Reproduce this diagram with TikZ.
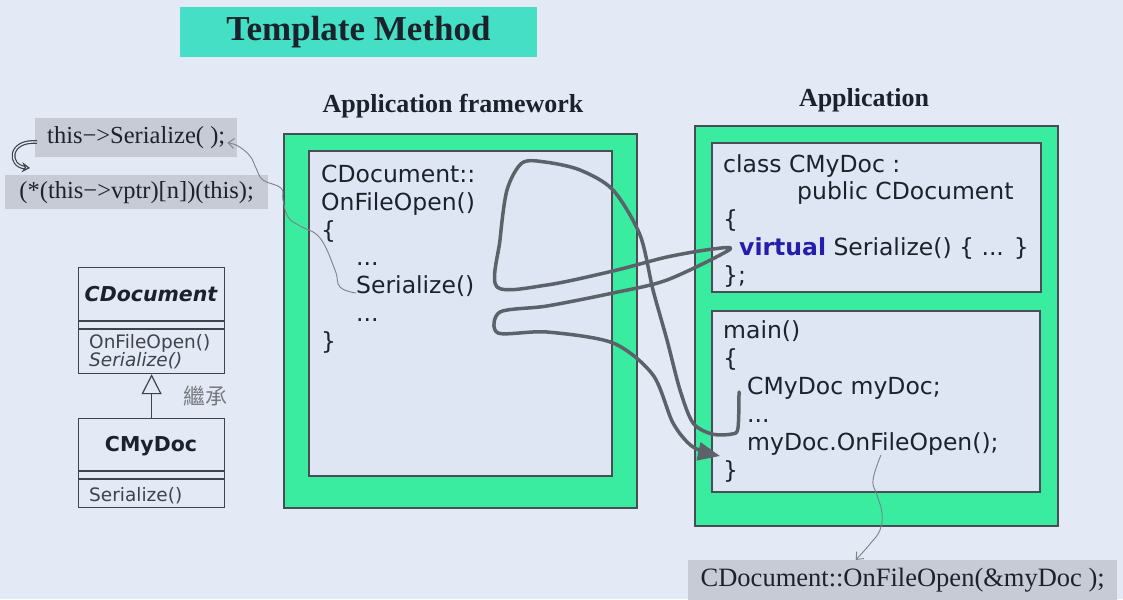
\documentclass[tikz,border=0pt]{standalone}
\usepackage{fontspec}
\setmainfont{Liberation Serif}
\setsansfont{DejaVu Sans}
\newfontfamily\cjkfont{Noto Sans CJK TC}
\usetikzlibrary{arrows.meta,positioning}

\definecolor{slidebg}{RGB}{227,233,245}
\definecolor{titleteal}{RGB}{68,223,196}
\definecolor{framegreen}{RGB}{58,236,160}
\definecolor{boxbg}{RGB}{222,230,243}
\definecolor{notegray}{RGB}{198,203,214}
\definecolor{ink}{RGB}{28,34,44}
\definecolor{pen}{RGB}{92,98,106}
\definecolor{kwblue}{RGB}{36,30,170}

\tikzset{
  greenframe/.style={draw=ink!80,line width=1.6pt,fill=framegreen},
  codebox/.style={draw=ink!80,line width=1.6pt,fill=boxbg},
  code/.style={font=\sffamily\fontsize{23.5}{28}\selectfont,text=ink,anchor=base west,inner sep=0pt},
  umltext/.style={font=\sffamily\fontsize{18.5}{22}\selectfont,text=ink!85,anchor=base west,inner sep=0pt},
  umlbox/.style={draw=ink!85,line width=1.2pt,fill=slidebg,anchor=north west,inner sep=0pt},
  notebox/.style={fill=notegray,font=\fontsize{24.5}{28}\selectfont,text=ink,inner sep=0pt},
  heading/.style={font=\bfseries\fontsize{26}{30}\selectfont,text=ink},
  penline/.style={draw=pen,line width=3.5pt,line cap=round,line join=round},
  pencil/.style={draw=pen!80,line width=0.9pt},
}

\begin{document}
\begin{tikzpicture}[x=1pt,y=-1pt]
			\useasboundingbox (0,0) rectangle (1123,599);
			\fill[slidebg] (0,0) rectangle (1123,599);
			\node[fill=titleteal,minimum width=357,minimum height=50,font=\bfseries\fontsize{35}{40}\selectfont,text=ink] (title) at (358.5,32) {Template Method};
			% left notes
			\node[notebox,minimum width=202,minimum height=39,anchor=north west] (thisser) at (35,118) {this−>Serialize( );};
			\node[notebox,minimum width=263,minimum height=34,anchor=north west] (vcall) at (5,175) {(*(this−>vptr)[n])(this);};
			\draw[ink!85,line width=1.2pt,double=slidebg,double distance=1.4pt,-{Stealth[length=8pt,width=10pt,open]}] (37,142) .. controls (8,140) and (8,166) .. (30,168);
			% uml
			\node[umlbox,minimum width=146,minimum height=106] (cdoc) at (78,267) {};
			\draw[ink!85,line width=1.2pt] (78,321) -- (224,321) (78,329) -- (224,329);
			\node[font=\sffamily\bfseries\itshape\fontsize{20.5}{24}\selectfont,text=ink] (cdocname) at (151,294) {CDocument};
			\node[umltext] (cdocop1) at (89,348) {OnFileOpen()};
			\node[umltext,font=\sffamily\itshape\fontsize{18.5}{22}\selectfont] (cdocop2) at (89,366) {Serialize()};
			\node[umlbox,minimum width=146,minimum height=89] (cmydoc) at (78,418) {};
			\draw[ink!85,line width=1.2pt] (78,471) -- (224,471) (78,479) -- (224,479);
			\node[font=\sffamily\bfseries\fontsize{20.5}{24}\selectfont,text=ink] (cmydocname) at (151,446) {CMyDoc};
			\node[umltext] (cmydocop) at (89,501) {Serialize()};
			\draw[ink!85,line width=1.2pt,-{Triangle[open,length=20pt,width=20pt]}] (cmydoc.north) -- (cdoc.south);
			\node[font=\cjkfont\fontsize{22}{24}\selectfont,text=ink!60] (inherit) at (205,396) {繼承};
			% framework
			\node[heading] (fwhead) at (453,106) {Application framework};
			\draw[greenframe] (284,134) rectangle (637,508);
			\draw[codebox] (309,151) rectangle (612,476);
			\node[code] (fw1) at (321,182) {CDocument::};
			\node[code] (fw2) at (321,210) {OnFileOpen()};
			\node[code] (fw3) at (321,238) {\{};
			\node[code] (fw4) at (356,265) {...};
			\node[code] (fwser) at (356,293) {Serialize()};
			\node[code] (fw6) at (356,321) {...};
			\node[code] (fw7) at (321,349) {\}};
			% application
			\node[heading] (apphead) at (864,100) {Application};
			\draw[greenframe] (695,126) rectangle (1058,526);
			\draw[codebox] (712,143) rectangle (1041,292);
			\draw[codebox] (712,311) rectangle (1040,492);
			\node[code] (cls1) at (723,172) {class CMyDoc :};
			\node[code] (cls2) at (797,199) {public CDocument};
			\node[code] (cls3) at (723,227) {\{};
			\node[code] (cls4) at (739,255) {{\bfseries\color{kwblue}virtual} Serialize() \{ ... \}};
			\node[code] (cls5) at (723,283) {\};};
			\node[code] (main1) at (723,338) {main()};
			\node[code] (main2) at (723,366) {\{};
			\node[code] (main3) at (747,394) {CMyDoc myDoc;};
			\node[code] (main4) at (747,422) {...};
			\node[code] (mycall) at (747,450) {myDoc.OnFileOpen();};
			\node[code] (main6) at (723,478) {\}};
			\node[notebox,font=\fontsize{26.5}{30}\selectfont,minimum width=429,minimum height=40,anchor=north west] (cdopen) at (688,560) {CDocument::OnFileOpen(\&myDoc );};
			% thin pencil arrows
			\draw[pencil,-{Straight Barb[length=6pt,width=10pt]}] plot[smooth,tension=.7] coordinates {(fwser.base west) (340,287) (335,270) (320,238) (300,226) (288,217) (283,200) (281,188) (263,180) (256,168) (250,156) (238,146) ([xshift=-10pt,yshift=-5pt]thisser.east)};
			\draw[pencil,-{Straight Barb[length=6pt,width=10pt]}] plot[smooth,tension=.7] coordinates {([xshift=8pt]mycall.south) (873,480) (877,495) (882,513) (880,530) (870,544) ([xshift=-47pt]cdopen.north)};
			% hand drawn flow
			\draw[penline,-{Triangle[length=22pt,width=18pt]}] plot[smooth,tension=.5] coordinates {(739,392) (738,428) (732,434) (712,434) (693,423) (680,390) (667,340) (653,290) (640,235) (613,190) (580,170) (545,162) (522,163) (507,190) (500,240) (497,287) (547,285) (613,271) (667,257) (713,249) (729,250) (667,280) (613,293) (547,306) (500,312) (498,333) (547,332) (613,343) (653,375) (673,423) (693,447) (720,456)};
		\end{tikzpicture}
\end{document}
